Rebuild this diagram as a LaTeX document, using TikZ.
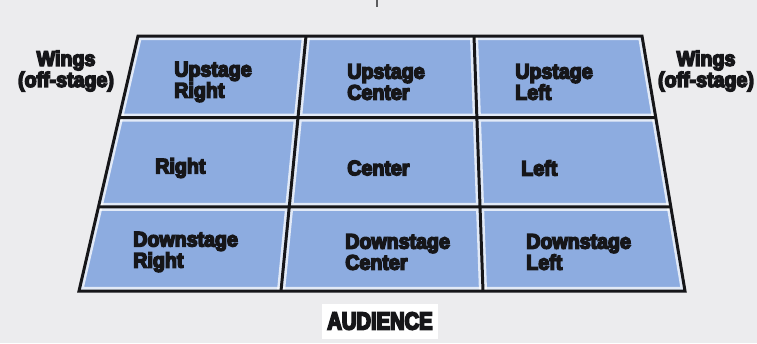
\documentclass[tikz,border=0pt]{standalone}
\usepackage{fontspec}
\newfontfamily\stagefont[UprightFont=* Bold,FakeStretch=0.93,FakeBold=7]{Liberation Sans}
\newfontfamily\audfont[UprightFont=* Bold,FakeStretch=0.82,FakeBold=7]{Liberation Sans}
\usetikzlibrary{calc}
\definecolor{stageblue}{RGB}{141,172,224}
\definecolor{floorgray}{RGB}{236,236,238}
\definecolor{lineink}{RGB}{22,22,25}

\begin{document}
\begin{tikzpicture}[
        x=0.02cm, y=-0.02cm,
        area/.style={font=\stagefont\fontsize{12}{12}\selectfont, text=lineink, align=left, anchor=west, inner sep=0pt},
        wings/.style={font=\stagefont\fontsize{12}{12}\selectfont, text=lineink, align=center, inner sep=2pt},
        aud/.style={font=\audfont\fontsize{14}{14}\selectfont, text=lineink, fill=white, inner xsep=3pt, inner ysep=5pt},
        stageline/.style={draw=lineink, line width=1.7pt, line join=miter},
        halo/.style={draw=white, opacity=0.75, line width=4.6pt}
    ]
    % Floor and frame
    \fill[floorgray] (0,0) rectangle (757,343);
    \useasboundingbox (0,0) rectangle (757,343);
    % Corners of the stage
    \coordinate (TL) at (138,36);
    \coordinate (TR) at (642,36);
    \coordinate (BR) at (685,291);
    \coordinate (BL) at (79,291);
    % Column and row splits
    \coordinate (T1) at ($(TL)!1/3!(TR)$);
    \coordinate (T2) at ($(TL)!2/3!(TR)$);
    \coordinate (B1) at ($(BL)!1/3!(BR)$);
    \coordinate (B2) at ($(BL)!2/3!(BR)$);
    \coordinate (L1) at ($(TL)!0.32!(BL)$);
    \coordinate (L2) at ($(TL)!0.67!(BL)$);
    \coordinate (R1) at ($(TR)!0.32!(BR)$);
    \coordinate (R2) at ($(TR)!0.67!(BR)$);
    % Stage floor
    \fill[stageblue] (TL) -- (TR) -- (BR) -- (BL) -- cycle;
    \begin{scope}
        \clip (TL) -- (TR) -- (BR) -- (BL) -- cycle;
        \draw[halo] (TL) -- (TR) -- (BR) -- (BL) -- cycle;
        \draw[halo] (T1) -- (B1) (T2) -- (B2) (L1) -- (R1) (L2) -- (R2);
    \end{scope}
    \draw[stageline] (TL) -- (TR) -- (BR) -- (BL) -- cycle;
    \draw[stageline] (T1) -- (B1) (T2) -- (B2) (L1) -- (R1) (L2) -- (R2);
    % Stage areas
    \node[area] (usr) at (174,82) {Upstage\\Right};
    \node[area] (usc) at (347,82) {Upstage\\Center};
    \node[area] (usl) at (515,82) {Upstage\\Left};
    \node[area] (sr) at (155,168) {Right};
    \node[area] (sc) at (347,168) {Center};
    \node[area] (sl) at (521,168) {Left};
    \node[area] (dsr) at (133,252) {Downstage\\Right};
    \node[area] (dsc) at (345,252) {Downstage\\Center};
    \node[area] (dsl) at (526,252) {Downstage\\Left};
    % Off-stage and house
    \node[wings] (wingl) at (66,71) {Wings\\(off-stage)};
    \node[wings] (wingr) at (706,71) {Wings\\(off-stage)};
    \node[aud] (house) at (380,321) {AUDIENCE};
    % Centre mark
    \coordinate (mark) at (377,0);
    \draw[lineink!70, line width=0.8pt] (mark) -- ++(0,7);
\end{tikzpicture}
\end{document}
